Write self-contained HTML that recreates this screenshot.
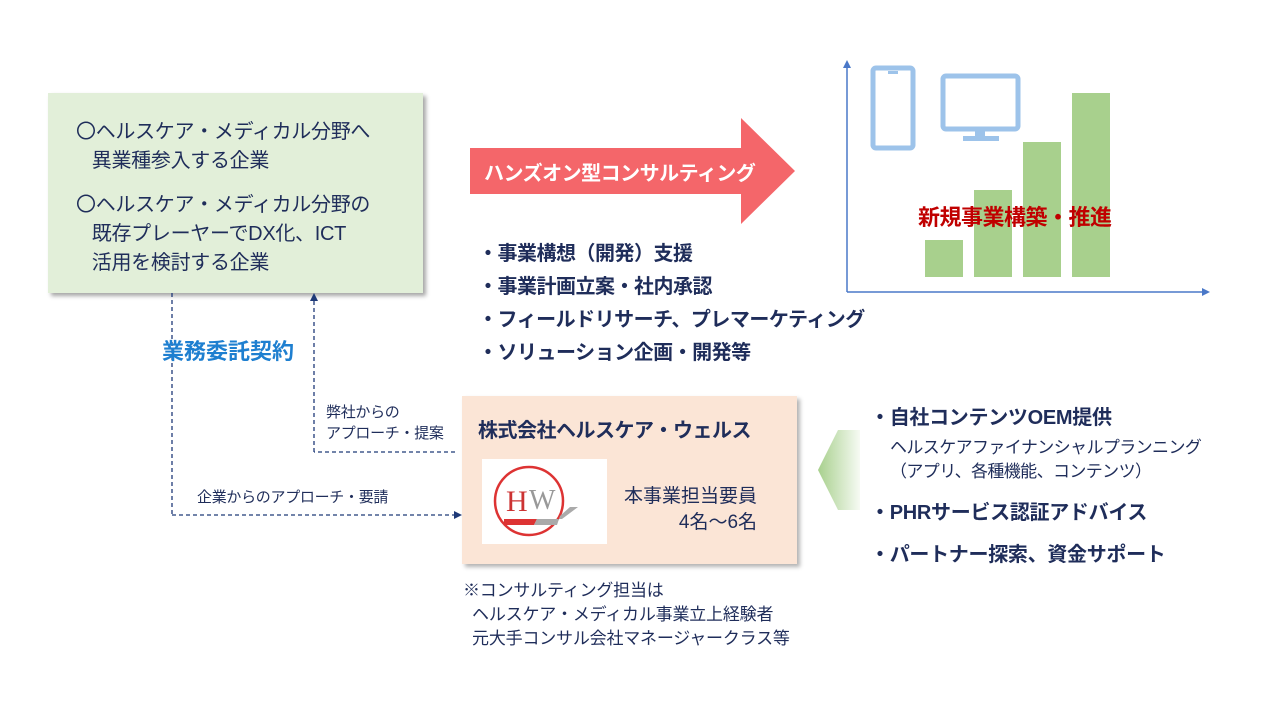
<!DOCTYPE html>
<html><head><meta charset="utf-8"><style>
body{margin:0;width:1280px;height:720px;background:#fff;position:relative;overflow:hidden;font-family:"Liberation Sans","Noto Sans CJK JP",sans-serif;}
.a{position:absolute;white-space:nowrap;}
.navy{color:#1f2d5a;}
.b{font-weight:bold;}
</style></head><body>
<div class="a" style="left:48px;top:93px;width:375px;height:200px;background:#e2efd9;box-shadow:3px 3px 4px rgba(0,0,0,.35);"></div>
<div class="a navy" style="left:76px;top:118px;font-size:20px;line-height:29px;letter-spacing:-0.3px;">〇ヘルスケア・メディカル分野へ<br>&nbsp;&nbsp;&nbsp;異業種参入する企業</div>
<div class="a navy" style="left:76px;top:191px;font-size:20px;line-height:29px;letter-spacing:-0.3px;">〇ヘルスケア・メディカル分野の<br>&nbsp;&nbsp;&nbsp;既存プレーヤーでDX化、ICT<br>&nbsp;&nbsp;&nbsp;活用を検討する企業</div>
<svg class="a" style="left:468px;top:116px" width="330" height="110"><polygon points="2,32 273,32 273,2 327,55 273,108 273,78 2,78" fill="#f4666a"/></svg>
<div class="a b" style="left:484px;top:157px;font-size:20px;color:#fff;letter-spacing:-0.5px;">ハンズオン型コンサルティング</div>
<div class="a b navy" style="left:478px;top:238px;font-size:20px;line-height:33px;letter-spacing:-0.5px;">・事業構想（開発）支援<br>・事業計画立案・社内承認<br>・フィールドリサーチ、プレマーケティング<br>・ソリューション企画・開発等</div>
<svg class="a" style="left:0;top:0" width="1280" height="720">
<defs><linearGradient id="g" x1="0" x2="1"><stop offset="0" stop-color="#a8d08d"/><stop offset="1" stop-color="#a8d08d" stop-opacity="0.1"/></linearGradient></defs>
<line x1="847" y1="292" x2="847" y2="66" stroke="#4a78c8" stroke-width="1.5"/>
<polygon points="847,60 843,68 851,68" fill="#4a78c8"/>
<line x1="847" y1="292" x2="1204" y2="292" stroke="#4a78c8" stroke-width="1.5"/>
<polygon points="1210,292 1202,288 1202,296" fill="#4a78c8"/>
<rect x="873" y="68" width="40" height="80" rx="3" fill="none" stroke="#9dc3ea" stroke-width="5"/>
<rect x="888" y="71" width="10" height="3" fill="#9dc3ea"/>
<rect x="943" y="76" width="75" height="53" rx="3" fill="none" stroke="#9dc3ea" stroke-width="5"/>
<rect x="975" y="129" width="10" height="8" fill="#9dc3ea"/>
<rect x="963" y="136" width="36" height="5" fill="#9dc3ea"/>
<rect x="925" y="240" width="38" height="37" fill="#a8d08d"/>
<rect x="974" y="190" width="38" height="87" fill="#a8d08d"/>
<rect x="1023" y="142" width="38" height="135" fill="#a8d08d"/>
<rect x="1072" y="93" width="38" height="184" fill="#a8d08d"/>
<g stroke="#1f3a78" stroke-width="1.3" stroke-dasharray="4,3" fill="none">
<line x1="172" y1="293" x2="172" y2="515"/>
<line x1="172" y1="515" x2="455" y2="515"/>
<line x1="455" y1="452" x2="314" y2="452"/>
<line x1="314" y1="452" x2="314" y2="300"/>
</g>
<polygon points="462,515 454,511 454,519" fill="#1f3a78"/>
<polygon points="314,293 310,301 318,301" fill="#1f3a78"/>
<polygon points="838,430 818,470 838,510 860,510 860,430" fill="url(#g)"/>
</svg>
<div class="a b" style="left:918px;top:200px;font-size:22px;color:#c00000;letter-spacing:-0.5px;">新規事業構築・推進</div>
<div class="a b" style="left:162px;top:334px;font-size:22px;color:#1e7fd0;">業務委託契約</div>
<div class="a navy" style="left:326px;top:402px;font-size:15px;line-height:21px;letter-spacing:-0.3px;">弊社からの<br>アプローチ・提案</div>
<div class="a navy" style="left:197px;top:486px;font-size:15px;letter-spacing:-0.3px;">企業からのアプローチ・要請</div>
<div class="a" style="left:462px;top:396px;width:335px;height:168px;background:#fbe5d6;box-shadow:3px 3px 4px rgba(0,0,0,.3);"></div>
<div class="a b navy" style="left:478px;top:414px;font-size:20px;letter-spacing:-0.5px;">株式会社ヘルスケア・ウェルス</div>
<div class="a" style="left:482px;top:459px;width:125px;height:85px;background:#fff;"></div>
<svg class="a" style="left:482px;top:459px" width="125" height="85">
<circle cx="47" cy="42" r="34" fill="none" stroke="#d33" stroke-width="2.5"/>
<text x="24" y="52" font-family="Liberation Serif,serif" font-size="30" fill="#c33">H</text>
<text x="47" y="50" font-family="Liberation Serif,serif" font-size="28" fill="#999">W</text>
<polygon points="22,60 55,60 52,66 22,66" fill="#d33"/>
<polygon points="55,60 80,60 96,48 88,48 78,57 75,66 52,66" fill="#aaa"/>
</svg>
<div class="a navy" style="left:624px;top:484px;font-size:19px;line-height:26px;text-align:right;">本事業担当要員<br>4名～6名</div>
<div class="a navy" style="left:463px;top:579px;font-size:17px;line-height:24px;letter-spacing:-0.2px;">※コンサルティング担当は<br>&nbsp;&nbsp;ヘルスケア・メディカル事業立上経験者<br>&nbsp;&nbsp;元大手コンサル会社マネージャークラス等</div>
<div class="a b navy" style="left:870px;top:401px;font-size:20px;letter-spacing:-0.3px;">・自社コンテンツOEM提供</div>
<div class="a navy" style="left:890px;top:436px;font-size:17px;line-height:24px;letter-spacing:-0.6px;">ヘルスケアファイナンシャルプランニング<br>（アプリ、各種機能、コンテンツ）</div>
<div class="a b navy" style="left:870px;top:496px;font-size:20px;letter-spacing:-0.3px;">・PHRサービス認証アドバイス</div>
<div class="a b navy" style="left:870px;top:538px;font-size:20px;letter-spacing:-0.3px;">・パートナー探索、資金サポート</div>
</body></html>
